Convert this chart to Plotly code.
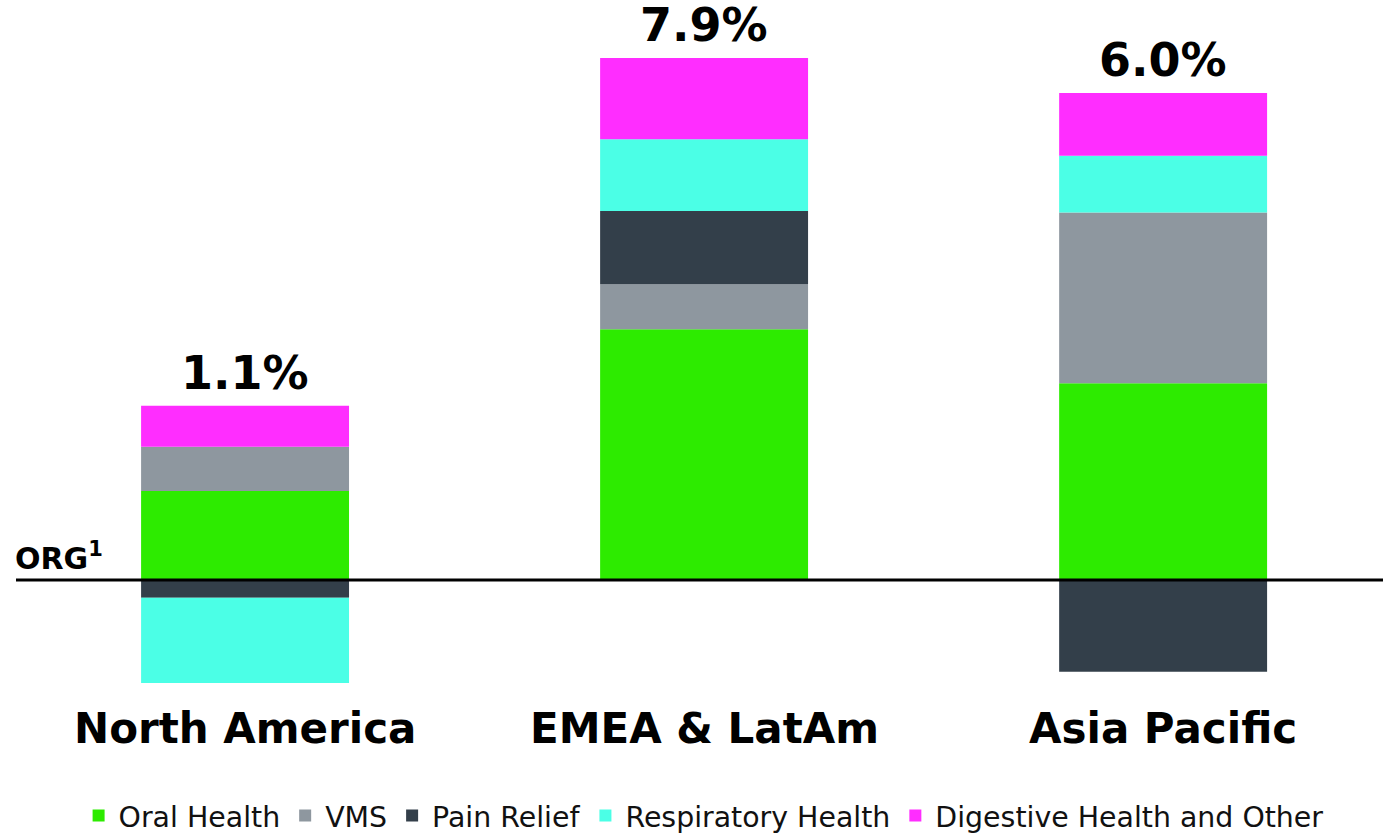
import plotly.graph_objects as go

categories = ["North America", "EMEA & LatAm", "Asia Pacific"]
oral_health = [1.35, 3.80, 2.98]
vms = [0.67, 0.68, 2.59]
pain_relief = [-0.27, 1.11, -1.39]
respiratory = [-1.29, 1.09, 0.86]
digestive = [0.62, 1.23, 0.95]
total_labels = ["1.1%", "7.9%", "6.0%"]

series = [
    ("Oral Health", oral_health, "#2DEB00"),
    ("VMS", vms, "#8E979F"),
    ("Pain Relief", pain_relief, "#333F4A"),
    ("Respiratory Health", respiratory, "#4BFFE6"),
    ("Digestive Health and Other", digestive, "#FF2DFF"),
]

xs = list(range(len(categories)))
fig = go.Figure()
for name, vals, color in series:
    fig.add_trace(go.Bar(
        x=xs, y=vals, name=name, width=0.453,
        marker=dict(color=color, line=dict(width=0)),
    ))

# stack tops (positive sums) for total labels
tops = []
for i in range(len(categories)):
    tops.append(sum(v[i] for _, v, _ in series if v[i] > 0))

annotations = []
for i, lab in enumerate(total_labels):
    annotations.append(dict(
        x=xs[i], y=tops[i], xref="x", yref="y", text=lab, showarrow=False,
        yanchor="bottom", yshift=5, borderpad=0,
        font=dict(family="DejaVu Sans", size=46, color="black", weight="bold"),
    ))
for i, cat in enumerate(categories):
    annotations.append(dict(
        x=xs[i], y=-0.04, xref="x", yref="paper", text=cat, showarrow=False,
        yanchor="middle",
        font=dict(family="DejaVu Sans", size=42, color="black", weight="bold"),
    ))
annotations.append(dict(
    x=0, y=0, xref="paper", yref="y", text="ORG<sup>1</sup>", showarrow=False,
    xanchor="left", yanchor="bottom", xshift=-3, yshift=2,
    font=dict(family="DejaVu Sans", size=30, color="black", weight="bold"),
))

fig.update_layout(
    barmode="relative",
    width=1383, height=833,
    margin=dict(l=16, r=0, t=0, b=133, autoexpand=False),
    paper_bgcolor="white", plot_bgcolor="white",
    xaxis=dict(range=[-0.499, 2.479], visible=False, fixedrange=True),
    yaxis=dict(range=[-1.818, 8.788], visible=False, fixedrange=True),
    showlegend=True,
    legend=dict(
        orientation="h", x=0.503, xanchor="center",
        yref="container", y=0.021, yanchor="middle",
        font=dict(family="DejaVu Sans", size=28.4, color="#111111"),
        itemwidth=30, tracegroupgap=0,
    ),
    annotations=annotations,
    shapes=[dict(type="line", xref="paper", yref="y", x0=0, x1=1, y0=0, y1=0,
                 line=dict(color="black", width=3), layer="above")],
)

# remove the browser's default 8px body margin so the figure fills the window
fig.write_html(
    "out.html",
    config={"displayModeBar": False},
    post_script="document.body.style.margin='0';document.body.style.overflow='hidden';",
)
